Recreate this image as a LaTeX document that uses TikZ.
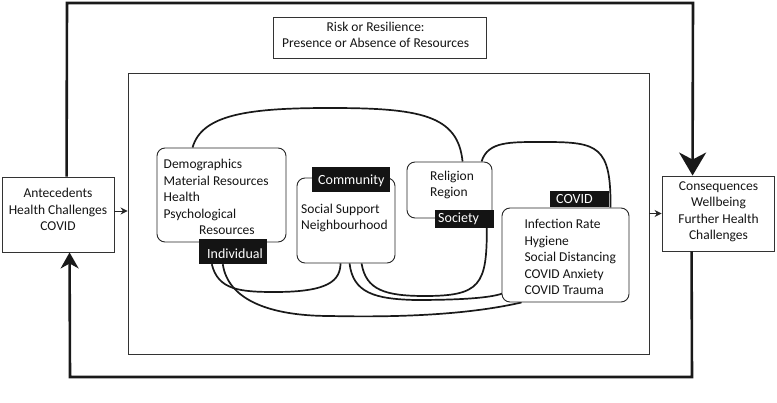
\documentclass[tikz,border=0pt]{standalone}
\usepackage{fontspec}
\setmainfont{Carlito}
\usetikzlibrary{arrows.meta,calc}
\pgfdeclarelayer{bg}
\pgfsetlayers{bg,main}
\begin{document}
\begin{tikzpicture}[x=1pt,y=-1pt,
  txt/.style={font=\fontsize{13.5}{16.5}\selectfont, text=black!92, inner sep=0pt},
  plainbox/.style={draw=black!80, line width=0.9pt, inner sep=0pt},
  softbox/.style={draw=black!85, line width=0.9pt, rounded corners=8pt, fill=white, inner sep=0pt},
  tag/.style={fill=black!92, inner sep=0pt},
  tagtext/.style={text=white, font=\fontsize{14}{16}\selectfont, inner sep=0pt, anchor=base west},
  link/.style={line width=1.7pt, draw=black!90},
  loopline/.style={line width=2.6pt, draw=black!90},
  smallarrow/.style={line width=0.9pt, draw=black!85, -{Stealth[length=7pt,width=7pt]}},
]
\useasboundingbox (0,0) rectangle (777,403);

% outer boxes
\node[plainbox, minimum width=112pt, minimum height=75pt] (ante) at (58,214.5) {};
\node[plainbox, minimum width=112pt, minimum height=75pt] (cons) at (718,213.5) {};
\node[plainbox, minimum width=213pt, minimum height=41pt] (title) at (379.5,37.5) {};
\node[plainbox, minimum width=521pt, minimum height=281pt] (frame) at (388.5,213.5) {};

% resource boxes
\node[softbox, minimum width=129pt, minimum height=94pt] (ind) at (221.5,195) {};
\node[softbox, minimum width=98pt, minimum height=85pt] (com) at (346,220.5) {};
\node[softbox, minimum width=85pt, minimum height=56pt] (soc) at (449.5,190) {};
\node[softbox, minimum width=127pt, minimum height=94pt] (cov) at (565.5,255) {};

% texts (anchor base = baseline of the last line)
\node[txt, anchor=base, align=center] (titletxt) at (375.6,47.7) {Risk or Resilience:\\Presence or Absence of Resources};
\node[txt, anchor=base, align=center] (antetxt) at (58,230.7) {Antecedents\\Health Challenges\\COVID};
\node[txt, anchor=base, align=center] (constxt) at (718.5,240) {Consequences\\Wellbeing\\Further Health\\Challenges};
\node[txt, anchor=base west, align=left] (indtxt) at (163.5,235) {Demographics\\Material Resources\\Health\\Psychological\\\hspace*{35.5pt}Resources};
\node[txt, anchor=base west, align=left] (comtxt) at (301,230) {Social Support\\Neighbourhood};
\node[txt, anchor=base west, align=left] (soctxt) at (430,196.7) {Religion\\Region};
\node[txt, anchor=base west, align=left] (covtxt) at (524.3,295) {Infection Rate\\Hygiene\\Social Distancing\\COVID Anxiety\\COVID Trauma};

% tags
\node[tag, minimum width=68pt, minimum height=25pt] (indl) at (233,251.5) {};
\node[tag, minimum width=78pt, minimum height=25pt] (coml) at (351,179.5) {};
\node[tag, minimum width=59pt, minimum height=18pt] (socl) at (464.5,219) {};
\node[tag, minimum width=59pt, minimum height=16pt] (covl) at (579.5,199) {};
\node[tagtext] (indlt) at (207,259) {Individual};
\node[tagtext] (comlt) at (318,185) {Community};
\node[tagtext] (soclt) at (438,222.5) {Society};
\node[tagtext] (covlt) at (556,204) {COVID};

% curves between resource groups
\begin{pgfonlayer}{bg}
\draw[link] ($(ind.north west)+(36,0)$) .. controls (202,114) and (250,108) .. (330,108)
  .. controls (420,108) and (458,115) .. ($(soc.north west)+(56,0)$);
\draw[link] ($(soc.north west)+(75,0)$) .. controls (488,141) and (510,142) .. (545,142)
  .. controls (598,142) and (611,146) .. ($(cov.north west)+(109,0)$);
\draw[link] ($(indl.south west)+(13,0)$) .. controls (218,290) and (240,292) .. (275,292)
  .. controls (330,292) and (340,280) .. ($(com.south west)+(44,0)$);
\draw[link] ($(indl.south west)+(24,0)$) .. controls (228,300) and (270,316) .. (330,316)
  .. controls (420,318) and (480,312) .. ($(cov.south west)+(20,0)$);
\draw[link] ($(com.south west)+(53,0)$) .. controls (353,293) and (375,299) .. (415,300)
  .. controls (460,300) and (490,298) .. ($(cov.south west)+(1,-9)$);
\draw[link] ($(com.south west)+(65,0)$) .. controls (366,290) and (385,296) .. (425,296)
  .. controls (480,296) and (487,285) .. ($(socl.south west)+(52,0)$);
\end{pgfonlayer}

% feedback loop
\coordinate (tl) at (67,3);
\coordinate (tr) at (693,3);
\coordinate (bl) at (70,377);
\coordinate (br) at (692,377);
\draw[loopline, -{Stealth[length=23pt,width=27pt,inset=7pt]}]
  ($(ante.north west)+(65,0)$) -- (tl) -- (tr) -- ($(cons.north west)+(31,0)$);
\draw[loopline, -{Stealth[length=16pt,width=18pt,inset=5pt]}]
  ($(cons.south west)+(30,0)$) -- (br) -- (bl) -- ($(ante.south west)+(68,0)$);

% small arrows
\draw[smallarrow] ($(ante.east)+(0,-3.5)$) coordinate (a1) -- (a1 -| frame.west);
\draw[smallarrow] (frame.east) -- (frame.east -| cons.west);
\end{tikzpicture}
\end{document}
